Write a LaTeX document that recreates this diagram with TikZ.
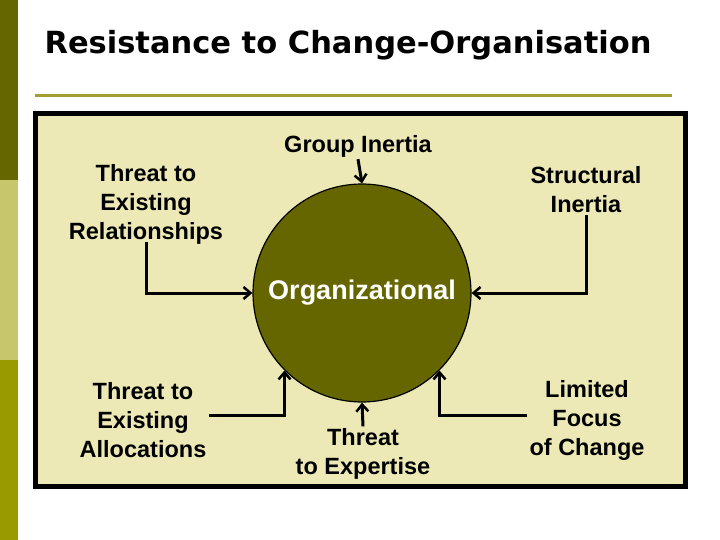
\documentclass[tikz,border=0pt]{standalone}
\usepackage{fontspec}
\setmainfont{Liberation Sans}
\newfontfamily\titlefont{DejaVu Sans}
\usepackage{tikz}
\usetikzlibrary{positioning}
\usetikzlibrary{arrows.meta}
\usepackage{xcolor}

\definecolor{olivedark}{HTML}{666600}
\definecolor{olivemid}{HTML}{C8C66C}
\definecolor{olivelow}{HTML}{999900}
\definecolor{oliverule}{HTML}{A39E33}
\definecolor{cream}{HTML}{EDE9B6}

\begin{document}
\begin{tikzpicture}[x=1pt, y=-1pt,
  label/.style={align=center, font=\fontsize{23.5}{29}\selectfont\bfseries, inner sep=2pt},
  feed/.style={line width=3pt, -{Straight Barb[length=7pt,width=12pt,line width=2.5pt]}}]

\useasboundingbox (0,0) rectangle (720,540);
\fill[white] (0,0) rectangle (720,540);

% SIDE %
%%%%%%%%%%%%  Side strip %%%%%%%%%%%%%
{
\fill[olivedark] (0,0) rectangle (18,180);
\fill[olivemid] (0,180) rectangle (18,360);
\fill[olivelow] (0,360) rectangle (18,540);
}

% TOP %
%%%%%%%%%%%%  Title %%%%%%%%%%%%%
{
\node (title) [font=\titlefont\fontsize{30.5}{34}\selectfont\bfseries] at (348,45)
{Resistance to Change-Organisation};

\draw[oliverule, line width=3pt] (35,96)--(672,96);
}

%%%%%%%%%%%%  Frame %%%%%%%%%%%%%
\draw[black, line width=5pt, fill=cream] (35.5,113.5) rectangle (685.5,486.5);

% circle
\node (org) [circle, draw=black, line width=1.2pt, fill=olivedark, minimum size=218pt,
  text=white, font=\fontsize{27}{30}\selectfont\bfseries] at (362,293) {Organizational};

% labellings
{
\node (grp) [label] at (358,146) {Group Inertia};
\node (rel) [label] at (146,204) {Threat to\\Existing\\Relationships};
\node (str) [label] at (586,190) {Structural\\Inertia};
\node (alloc) [label] at (143,420) {Threat to\\Existing\\Allocations};
\node (exp) [label] at (363,454) {Threat\\to Expertise};
\node (lim) [label] at (587,420) {Limited\\Focus\\of Change};
}

% arrows
{
\draw[feed] (grp.south) -- (org.north);
\draw[feed] ([yshift=4pt]rel.south) |- (org.west);
\draw[feed] (str.south) |- (org.east);
\draw[feed] ([yshift=5pt]alloc.east) -| (org.-135);
\draw[feed] (exp.north) -- (org.south);
\draw[feed] ([yshift=5pt]lim.west) -| (org.-45);
}

\end{tikzpicture}
\end{document}
